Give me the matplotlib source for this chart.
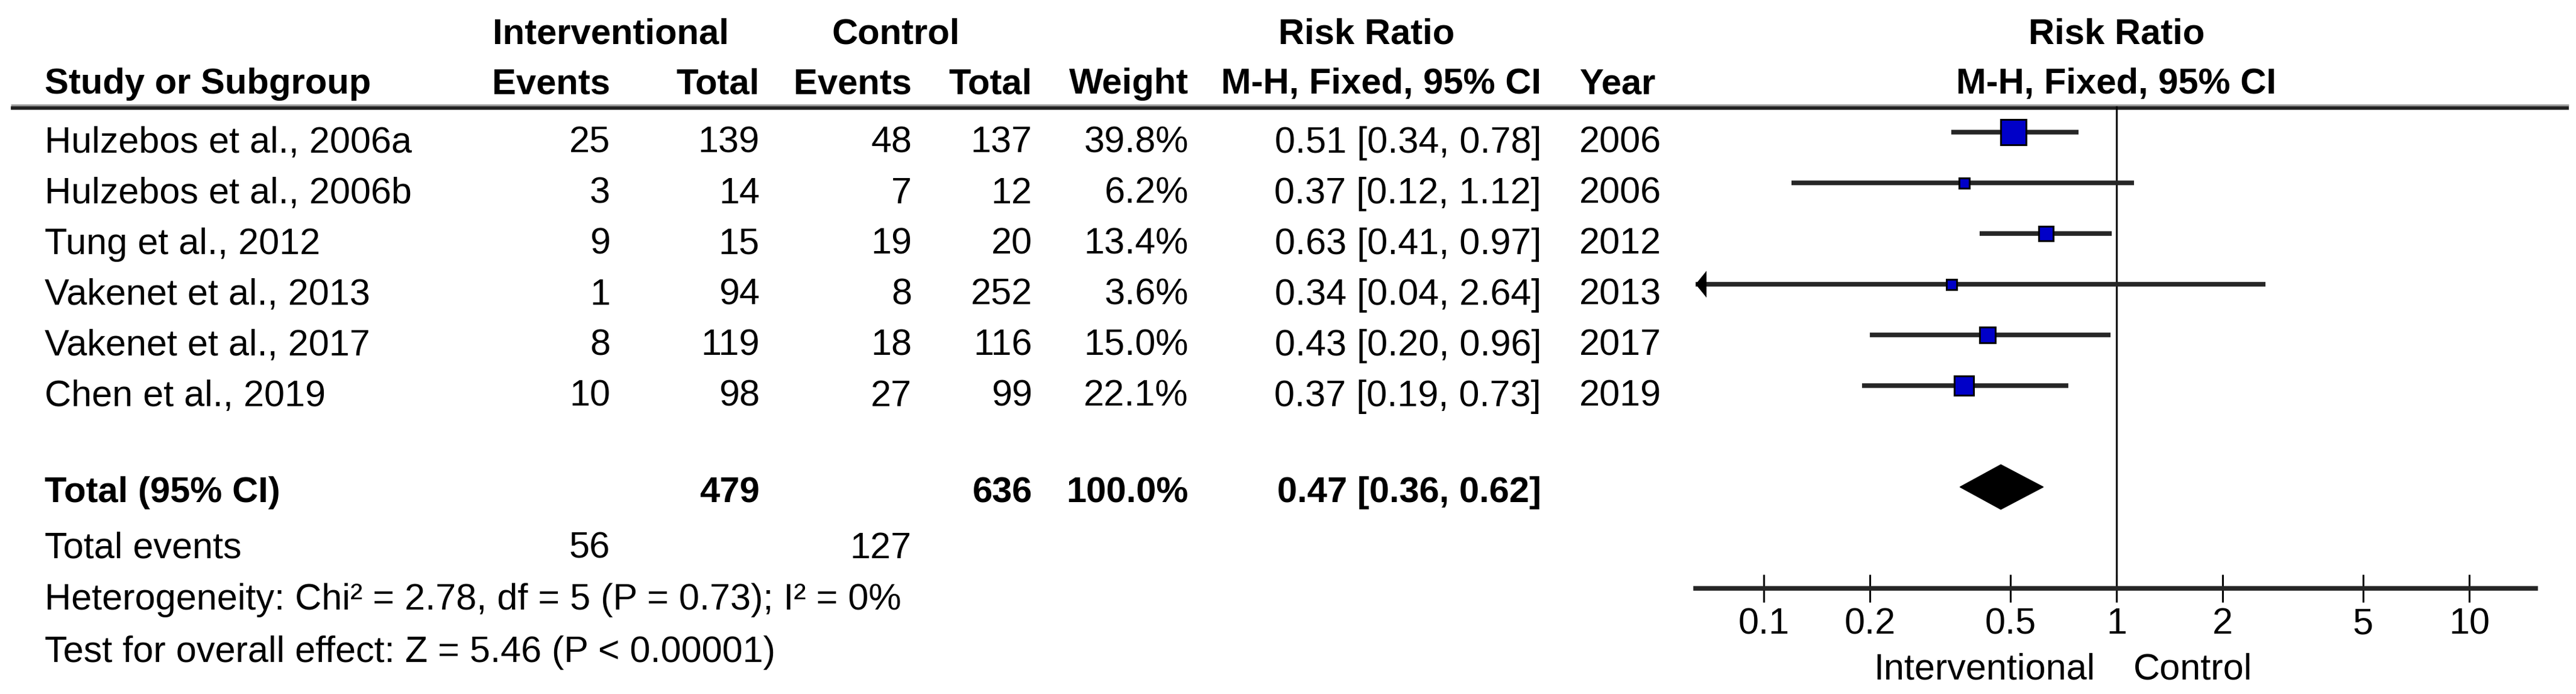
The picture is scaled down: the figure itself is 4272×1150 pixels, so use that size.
import numpy as np
import matplotlib
matplotlib.use('Agg')
import matplotlib.pyplot as plt
from matplotlib.patches import Polygon

# study data
studies = ['Hulzebos et al., 2006a', 'Hulzebos et al., 2006b', 'Tung et al., 2012',
           'Vakenet et al., 2013', 'Vakenet et al., 2017', 'Chen et al., 2019']
int_events = [25, 3, 9, 1, 8, 10]
int_total = [139, 14, 15, 94, 119, 98]
ctrl_events = [48, 7, 19, 8, 18, 27]
ctrl_total = [137, 12, 20, 252, 116, 99]
weights = [39.8, 6.2, 13.4, 3.6, 15.0, 22.1]
rr = [0.51, 0.37, 0.63, 0.34, 0.43, 0.37]
ci_low = [0.34, 0.12, 0.41, 0.04, 0.20, 0.19]
ci_high = [0.78, 1.12, 0.97, 2.64, 0.96, 0.73]
years = [2006, 2006, 2012, 2013, 2017, 2019]

# pooled result
total_int = 479
total_ctrl = 636
total_weight = 100.0
total_events_int = 56
total_events_ctrl = 127
total_rr = 0.47
total_low = 0.36
total_high = 0.62
hetero_text = 'Heterogeneity: Chi\u00b2 = 2.78, df = 5 (P = 0.73); I\u00b2 = 0%'
overall_text = 'Test for overall effect: Z = 5.46 (P < 0.00001)'
axis_ticks = [0.1, 0.2, 0.5, 1, 2, 5, 10]

plt.rcParams['font.family'] = ['Liberation Sans', 'DejaVu Sans']
FS = 44   # regular text size
FB = 43   # bold text size
W, H = 4272, 1150

fig = plt.figure(figsize=(W / 100, H / 100), dpi=100)

# y is in "row units": row r sits at pixel 219 + 84 * r
top = -219 / 84
bottom = (H - 219) / 84

# full-figure axes for the table part (x in pixels)
ax = fig.add_axes([0, 0, 1, 1])
ax.set_xlim(0, W)
ax.set_ylim(bottom, top)
ax.axis('off')

# forest plot axes (log scale), 1 sits at x=3510px, one decade = 585px
x_left, x_right = 2812, 4205
ax2 = fig.add_axes([x_left / W, 0, (x_right - x_left) / W, 1])
ax2.set_xscale('log')
ax2.set_xlim(10 ** ((x_left - 3510) / 585), 10 ** ((x_right - 3510) / 585))
ax2.set_ylim(bottom, top)
ax2.patch.set_alpha(0)

# column positions (right edges unless noted)
x_name = 74
x_ie, x_it, x_ce, x_ct, x_w, x_rr, x_year = 1012, 1260, 1512, 1712, 1971, 2556, 2619

# header rows
h1, h2 = -1.74, -0.76
bold = dict(fontsize=FB, fontweight='bold', va='baseline')
ax.text(1013, h1, 'Interventional', ha='center', **bold)
ax.text(1486, h1, 'Control', ha='center', **bold)
ax.text(2266, h1, 'Risk Ratio', ha='center', **bold)
ax.text(3510, h1, 'Risk Ratio', ha='center', **bold)
ax.text(x_name, h2, 'Study or Subgroup', ha='left', **bold)
ax.text(x_ie, h2, 'Events', ha='right', **bold)
ax.text(x_it, h2, 'Total', ha='right', **bold)
ax.text(x_ce, h2, 'Events', ha='right', **bold)
ax.text(x_ct, h2, 'Total', ha='right', **bold)
ax.text(x_w, h2, 'Weight', ha='right', **bold)
ax.text(x_rr, h2, 'M-H, Fixed, 95% CI', ha='right', **bold)
ax.text(x_year, h2, 'Year', ha='left', **bold)
ax.text(3510, h2, 'M-H, Fixed, 95% CI', ha='center', **bold)

# line under the header (grey edge + dark core)
ax.plot([18, 4260], [-0.5, -0.5], color='#9a9a9a', lw=6.5, solid_capstyle='butt')
ax.plot([18, 4260], [-0.48, -0.48], color='#202020', lw=4, solid_capstyle='butt')

# study rows
reg = dict(fontsize=FS, va='baseline')
for i in range(len(studies)):
    yb = i + 0.4
    ax.text(x_name, yb, studies[i], ha='left', **reg)
    ax.text(x_ie, yb, str(int_events[i]), ha='right', **reg)
    ax.text(x_it, yb, str(int_total[i]), ha='right', **reg)
    ax.text(x_ce, yb, str(ctrl_events[i]), ha='right', **reg)
    ax.text(x_ct, yb, str(ctrl_total[i]), ha='right', **reg)
    ax.text(x_w, yb, f'{weights[i]:.1f}%', ha='right', **reg)
    ax.text(x_rr, yb, f'{rr[i]:.2f} [{ci_low[i]:.2f}, {ci_high[i]:.2f}]', ha='right', **reg)
    ax.text(x_year, yb, str(years[i]), ha='left', **reg)

# total row
yt = 7.3
ax.text(x_name, yt, 'Total (95% CI)', ha='left', **bold)
ax.text(x_it, yt, str(total_int), ha='right', **bold)
ax.text(x_ct, yt, str(total_ctrl), ha='right', **bold)
ax.text(x_w, yt, f'{total_weight:.1f}%', ha='right', **bold)
ax.text(x_rr, yt, f'{total_rr:.2f} [{total_low:.2f}, {total_high:.2f}]', ha='right', **bold)

# summary text
ax.text(x_name, 8.4, 'Total events', ha='left', **reg)
ax.text(x_ie, 8.4, str(total_events_int), ha='right', **reg)
ax.text(x_ce, 8.4, str(total_events_ctrl), ha='right', **reg)
ax.text(x_name, 9.42, hetero_text, ha='left', **reg)
ax.text(x_name, 10.45, overall_text, ha='left', **reg)

# line of no effect
ax2.plot([1, 1], [-0.5, 9.0], color='black', lw=2.2)

# confidence intervals and squares
xmin = ax2.get_xlim()[0]
wmax = max(weights)
for i in range(len(studies)):
    ax2.plot([ci_low[i], ci_high[i]], [i, i], color='#262626', lw=5.5, solid_capstyle='butt')
    side = max(17, 42 * np.sqrt(weights[i] / wmax))  # square side in pixels
    ax2.plot(rr[i], i, marker='s', markersize=side * 0.72, markerfacecolor='#0000c8',
             markeredgecolor='black', markeredgewidth=2.2, linestyle='none')
    if ci_low[i] < xmin:
        # CI runs past the axis: draw an arrow at the edge
        ax2.annotate('', xy=(xmin, i), xytext=(xmin * 1.15, i),
                     arrowprops=dict(arrowstyle='-|>,head_length=0.65,head_width=0.8',
                                     color='black', lw=0, shrinkA=0, shrinkB=0,
                                     mutation_scale=20), annotation_clip=False)

# pooled diamond
ax2.add_patch(Polygon([(total_low, 7), (total_rr, 7 - 0.44), (total_high, 7), (total_rr, 7 + 0.44)],
                      closed=True, facecolor='black', edgecolor='black'))

# x axis at the bottom of the forest plot
for side in ['top', 'right', 'left']:
    ax2.spines[side].set_visible(False)
ax2.spines['bottom'].set_position(('data', 9.0))
ax2.spines['bottom'].set_linewidth(5.5)
ax2.spines['bottom'].set_color('#262626')
ax2.set_yticks([])
ax2.set_xticks(axis_ticks)
ax2.set_xticklabels([str(t) for t in axis_ticks])
ax2.xaxis.set_minor_locator(matplotlib.ticker.NullLocator())
ax2.tick_params(axis='x', direction='inout', length=33, width=2.2, pad=6, labelsize=FS)

# favours labels
ax.text(3475, 10.79, 'Interventional', ha='right', **reg)
ax.text(3538, 10.79, 'Control', ha='left', **reg)

plt.savefig('out.png', dpi=100)
